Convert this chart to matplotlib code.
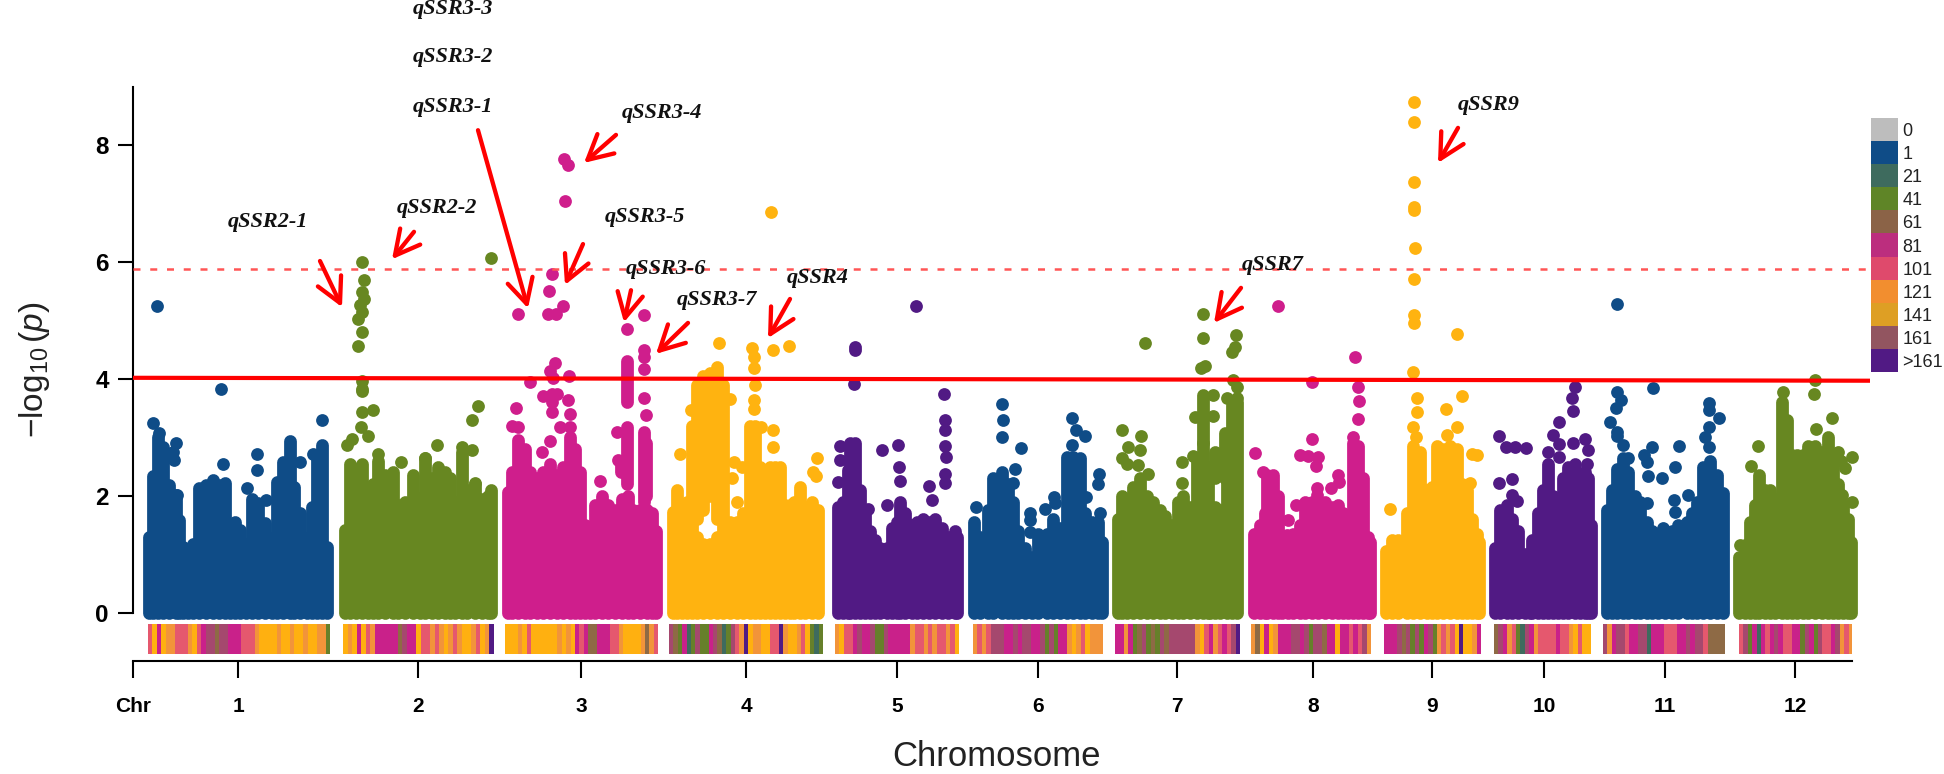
import matplotlib
matplotlib.use("Agg")
import matplotlib.pyplot as plt
import numpy as np
from matplotlib.colors import ListedColormap

W, H = 1944, 774
plt.rcParams['font.family'] = ['Liberation Sans', 'DejaVu Sans']
plt.rcParams['mathtext.fontset'] = 'custom'
plt.rcParams['mathtext.rm'] = 'Liberation Sans'
plt.rcParams['mathtext.it'] = 'Liberation Sans:italic'

chrom_labels = ['1','2','3','4','5','6','7','8','9','10','11','12']
chrom_centers = [238,418,581,746,897,1038,1177,1313,1432,1544,1665,1795]
blue, green, magenta, yellow, purple = '#0F4C87', '#678721', '#CF1E8C', '#FFB310', '#511A84'
chrom_colors = [blue, green, magenta, yellow, purple, blue, green, magenta, yellow, purple, blue, green]

# skyline of the dense point mass: position, top -log10(p)
c1_x = [149,153,158,163,169,176,179,183,188,193,199,206,213,219,225,230,235,240,246,252,258,265,272,277,283,290,294,300,307,312,317,322,327]
c1_t = [1.30,2.33,3.01,2.84,2.18,2.01,1.58,1.13,1.01,1.18,2.13,2.18,2.27,2.18,2.21,1.41,1.55,1.41,1.18,1.95,1.87,1.53,1.27,2.24,2.58,2.93,2.15,1.70,1.27,1.81,2.70,2.87,1.13]
c2_x = [345,350,356,362,368,373,378,385,393,398,405,413,420,425,432,438,445,450,455,462,467,475,482,488,491]
c2_t = [1.41,2.55,2.45,2.55,2.10,2.20,2.60,2.35,2.40,1.85,1.90,2.35,1.97,2.65,2.30,2.50,2.40,2.30,1.90,2.75,2.10,2.20,1.95,2.00,2.10]
c3_x = [508,512,518,525,530,537,543,550,557,563,570,575,580,585,590,595,602,608,615,622,628,633,640,647,652,656]
c3_t = [2.07,2.40,2.95,2.80,2.40,2.30,2.40,2.55,2.35,2.50,3.00,2.80,2.40,1.50,1.30,1.85,2.00,1.85,1.75,1.95,2.00,1.75,1.75,1.75,1.70,1.40]
c4_x = [673,677,682,687,692,697,703,710,717,723,730,737,743,750,755,760,765,770,775,780,785,790,794,800,805,812,818]
c4_t = [1.73,2.10,1.65,1.90,3.20,1.30,1.18,1.18,1.30,3.90,1.55,1.55,1.70,3.20,3.20,2.50,1.90,2.50,2.50,2.50,1.85,1.85,1.90,2.15,1.80,1.90,1.75]
c5_x = [838,843,848,850,855,860,865,870,875,880,887,892,897,900,905,912,917,923,929,935,942,948,955,957]
c5_t = [1.81,1.90,2.44,2.90,2.90,2.10,1.75,1.40,1.25,1.10,1.10,1.45,1.55,1.90,1.70,1.50,1.55,1.60,1.55,1.60,1.45,1.30,1.40,1.30]
c6_x = [974,980,988,993,1002,1008,1013,1018,1025,1032,1038,1047,1053,1060,1067,1073,1080,1085,1092,1098,1102]
c6_t = [1.55,1.30,1.75,2.30,2.40,2.20,1.90,1.40,1.10,0.95,1.35,1.35,1.60,1.45,2.67,2.67,2.65,1.70,1.55,1.55,1.20]
c7_x = [1118,1122,1127,1133,1140,1147,1153,1160,1165,1172,1178,1183,1190,1197,1203,1208,1210,1215,1220,1227,1232,1237]
c7_t = [1.60,2.00,1.70,2.15,2.30,2.00,1.90,1.75,1.65,1.50,1.90,2.00,1.80,2.60,2.90,2.50,1.80,1.80,1.75,2.30,3.55,3.60]
c8_x = [1254,1260,1265,1267,1273,1278,1282,1288,1293,1300,1305,1312,1318,1325,1332,1338,1343,1348,1353,1358,1363,1368,1370]
c8_t = [1.35,1.50,1.70,2.35,2.35,2.00,1.30,1.25,1.35,1.50,1.90,1.90,1.90,1.90,1.80,1.85,1.70,1.40,2.90,2.85,2.30,1.30,1.20]
c9_x = [1386,1392,1398,1407,1413,1420,1427,1432,1437,1443,1450,1457,1462,1467,1472,1477,1479]
c9_t = [1.05,1.25,1.25,1.70,2.85,2.75,2.10,2.15,2.85,2.80,2.85,2.80,2.20,2.10,1.60,1.35,1.20]
c10_x = [1495,1500,1507,1512,1518,1525,1530,1532,1538,1543,1548,1553,1558,1563,1568,1575,1580,1585,1588,1591]
c10_t = [1.10,1.75,1.85,1.60,1.40,1.00,0.95,1.25,1.70,2.10,2.55,2.00,1.40,2.30,2.50,2.55,2.00,2.40,2.30,1.50]
c11_x = [1607,1612,1617,1623,1628,1635,1640,1647,1652,1658,1665,1672,1678,1687,1692,1697,1703,1710,1717,1723]
c11_t = [1.75,2.10,2.45,2.65,2.40,2.00,1.90,1.55,1.40,1.35,1.40,1.40,1.50,1.55,1.70,1.90,2.50,2.60,2.35,2.05]
c12_x = [1739,1745,1750,1755,1759,1765,1770,1775,1782,1787,1792,1797,1803,1808,1815,1822,1828,1833,1838,1843,1848,1851]
c12_t = [0.95,1.15,1.55,1.85,2.35,2.10,2.10,1.95,3.60,3.30,1.95,2.10,1.95,2.85,2.85,2.75,3.00,2.65,2.20,1.85,1.60,1.20]

# floating columns of overlapping points: position, lowest, highest
s3_x = [627,644,646,621]
s3_l = [2.20,1.90,2.00,2.40]
s3_h = [3.18,3.10,2.90,2.60]
s3b_x = [627]
s3b_l = [3.60]
s3b_h = [4.30]
s4_x = [697,703,710,717]
s4_l = [1.60,1.75,2.00,1.60]
s4_h = [3.90,4.05,4.10,4.20]
s7_x = [1203,1215,1225]
s7_l = [2.90,2.30,2.30]
s7_h = [3.72,2.75,3.07]
s12_x = [1797,1803,1792]
s12_l = [2.20,2.50,2.55]
s12_h = [2.70,2.70,2.70]

# individually visible points
d1_x = [157,221,322,153,159,176,173,174,223,257,257,247,266,300,313,177]
d1_y = [5.25,3.82,3.30,3.25,3.08,2.90,2.75,2.61,2.54,2.71,2.44,2.13,1.93,2.58,2.71,2.01]
d2_x = [362,364,362,364,360,362,358,362,358,362,362,362,491,373,362,361,368,352,347,378,401,437,425,478,472,472,462,475]
d2_y = [6.00,5.70,5.49,5.37,5.26,5.14,5.03,4.80,4.56,3.97,3.83,3.79,6.07,3.47,3.44,3.18,3.02,2.97,2.87,2.71,2.57,2.87,2.64,3.53,3.29,2.79,2.84,2.21]
d3_x = [518,552,549,563,548,556,564,568,565,627,644,644,644,644,555,550,553,569,530,552,543,557,552,568,516,552,570,512,518,560,570,550,542,600,644,646,617,618]
d3_y = [5.11,5.80,5.50,5.25,5.11,5.11,7.77,7.66,7.04,4.86,5.10,4.50,4.37,4.17,4.27,4.13,4.01,4.05,3.95,3.75,3.70,3.75,3.61,3.64,3.51,3.44,3.40,3.19,3.18,3.17,3.17,2.93,2.75,2.26,3.67,3.39,3.10,2.61]
d4_x = [719,752,754,754,755,754,754,773,789,773,773,680,817,813,816,737,730,691,771,734,742,761,732]
d4_y = [4.61,4.53,4.38,4.18,3.90,3.64,3.48,4.49,4.57,3.13,2.84,2.71,2.64,2.41,2.33,1.90,3.66,3.47,6.86,2.57,2.50,3.18,2.30]
d5_x = [855,855,854,916,944,945,945,945,946,945,945,882,898,899,900,929,932,868,887,840,840,838]
d5_y = [4.49,4.55,3.91,5.25,3.74,3.29,3.13,2.85,2.66,2.38,2.21,2.79,2.87,2.50,2.26,2.17,1.93,1.77,1.85,2.85,2.61,2.24]
d6_x = [1002,1003,1002,1021,1015,976,1030,1030,1030,1045,1054,1055,1072,1076,1085,1072,1099,1098,1100,1086,1013]
d6_y = [3.57,3.30,3.00,2.81,2.46,1.81,1.71,1.58,1.38,1.77,1.98,1.87,3.34,3.13,3.02,2.87,2.37,2.20,1.70,1.98,2.21]
d7_x = [1203,1203,1145,1236,1235,1232,1205,1201,1233,1122,1141,1128,1140,1122,1127,1138,1148,1182,1193,1182,1195,1213,1227,1237,1237,1213,1222,1225]
d7_y = [5.12,4.70,4.61,4.75,4.55,4.46,4.22,4.19,3.98,3.13,3.02,2.84,2.78,2.64,2.55,2.53,2.38,2.58,2.68,2.21,3.35,3.73,3.68,3.67,3.87,3.37,2.68,2.30]
d8_x = [1278,1355,1312,1358,1359,1358,1353,1312,1255,1300,1308,1318,1316,1263,1338,1339,1331,1317,1317,1296,1288,1287]
d8_y = [5.25,4.37,3.94,3.87,3.63,3.31,3.01,2.97,2.73,2.70,2.68,2.67,2.51,2.41,2.35,2.24,2.13,2.14,2.01,1.84,1.58,1.33]
d9_x = [1414,1414,1414,1414,1414,1415,1414,1414,1414,1457,1413,1462,1446,1417,1417,1413,1416,1457,1447,1390,1477,1472,1470]
d9_y = [8.74,8.40,7.37,6.95,6.89,6.24,5.71,5.09,4.96,4.77,4.12,3.71,3.48,3.67,3.44,3.18,3.01,3.18,3.04,1.77,2.70,2.72,2.21]
d10_x = [1499,1506,1515,1526,1499,1512,1512,1517,1575,1572,1573,1559,1553,1559,1559,1573,1585,1588,1587,1548]
d10_y = [3.03,2.84,2.84,2.82,2.22,2.29,2.01,1.91,3.86,3.68,3.45,3.26,3.04,2.88,2.66,2.90,2.98,2.78,2.55,2.75]
d11_x = [1617,1653,1617,1621,1616,1610,1617,1617,1709,1709,1719,1709,1705,1709,1679,1652,1644,1647,1675,1648,1662,1688,1674,1675,1647,1663,1623,1628]
d11_y = [5.28,3.85,3.78,3.64,3.51,3.27,3.10,3.02,3.58,3.47,3.34,3.18,3.01,2.84,2.85,2.83,2.70,2.58,2.49,2.34,2.31,2.01,1.93,1.73,1.87,1.44,2.87,2.64]
d12_x = [1815,1814,1783,1832,1816,1758,1751,1852,1740,1842,1852,1845,1838,1841]
d12_y = [3.98,3.75,3.78,3.34,3.14,2.86,2.51,2.67,1.15,2.01,1.89,2.47,2.75,2.60]

mass_x = [c1_x,c2_x,c3_x,c4_x,c5_x,c6_x,c7_x,c8_x,c9_x,c10_x,c11_x,c12_x]
mass_t = [c1_t,c2_t,c3_t,c4_t,c5_t,c6_t,c7_t,c8_t,c9_t,c10_t,c11_t,c12_t]
dots_x = [d1_x,d2_x,d3_x,d4_x,d5_x,d6_x,d7_x,d8_x,d9_x,d10_x,d11_x,d12_x]
dots_y = [d1_y,d2_y,d3_y,d4_y,d5_y,d6_y,d7_y,d8_y,d9_y,d10_y,d11_y,d12_y]
segs = [(s3_x,s3_l,s3_h,magenta),(s3b_x,s3b_l,s3b_h,magenta),(s4_x,s4_l,s4_h,yellow),(s7_x,s7_l,s7_h,green),(s12_x,s12_l,s12_h,green)]

# SNP density strip (one character per window)
strip_rows = [
 "SYKYOOSSSOYSKMMBMMKKKSSSOYYYYOYYOYYOYYOOG",
 "YOYKYSOKKKKKBMKKYSSOSOYOSOYYOSYOP",
 "YYYOYSYYYYYYOYOYKSKBBKKKSSOYYYYOBOS",
 "MBGKTGMGGKMBTGMSOPYOOYYSSPOYYOSYGTG",
 "OYSSKMKKMGGMKKKKKOSSOSOSSOSY",
 "OSOSMMMKKMKMMKKMGMGKKOYOSYOOO",
 "KKOKGBMGBGMBMMMMMMOYSKOSKSMP",
 "OBYKYOKKKMMKMGMMBKKYKKSKSMO",
 "KKKMBMGMGKMGOSOSYPYYOK",
 "BMKOSGTMKOSSSSKSSOYSYY",
 "MOKMMSKKMMTKKKSSSKKMKMMSBBBB",
 "SMGKTKSKMKSSKKGMKGMSSKMOSO",
]
strip_start = [148,343,505,669,835,973,1115,1251,1384,1494,1603,1739]
strip_end = [330,494,658,823,959,1103,1240,1371,1481,1591,1725,1853]
strip_palette = {'T':'#3E6B5E','G':'#66802A','B':'#8E6A45','K':'#C9218A','S':'#E5586E',
                 'O':'#F2943A','Y':'#FFB010','M':'#A5486E','P':'#511A84'}

legend_labels = ['0','1','21','41','61','81','101','121','141','161','>161']
legend_colors = ['#BDBDBD','#0F4C87','#3E6B5E','#5F8527','#8B6347','#BC2E7E','#DF4A6C','#F28E2F','#DE9F24','#925560','#511A84']

qtl_names = ['qSSR3-3','qSSR3-2','qSSR3-1','qSSR3-4','qSSR2-1','qSSR2-2','qSSR3-5','qSSR3-6','qSSR3-7','qSSR4','qSSR7','qSSR9']
qtl_x = [453,453,453,662,268,437,645,666,717,818,1273,1489]
qtl_y = [10.33,9.51,8.66,8.55,6.69,6.92,6.77,5.88,5.35,5.73,5.95,8.69]
arrow_tail_x = [320,414,478,616,583,631,688,790,1241,1458]
arrow_tail_y = [6.02,6.52,8.26,8.18,6.31,5.52,4.96,5.37,5.56,8.30]
arrow_head_x = [342,392,528,584,565,624,656,768,1214,1438]
arrow_head_y = [5.23,6.05,5.21,7.70,5.61,4.97,4.43,4.70,4.96,7.70]

threshold_dotted = 5.88
threshold_x = [133,1870]
threshold_solid = [4.02,3.97]

fig = plt.figure(figsize=(W/100, H/100), dpi=100)
ax = fig.add_axes([133/W, 113/H, (1852-133)/W, 574/H])
ax.set_xlim(133, 1852)
ax.set_ylim(-0.83, 9)
for s in ('top','right'):
    ax.spines[s].set_visible(False)
ax.spines['left'].set_bounds(0, 9)
ax.spines['left'].set_linewidth(1.5)
ax.spines['bottom'].set_linewidth(1.5)
ax.set_yticks([0,2,4,6,8])
ax.set_xticks([133]+chrom_centers)
ax.set_xticklabels(['Chr']+chrom_labels, fontsize=15, fontweight='bold')
ax.tick_params(axis='y', length=10.5, width=1.5, labelsize=17.5, pad=7)
ax.tick_params(axis='x', length=12, width=1.5, pad=14)
for t in ax.get_yticklabels():
    t.set_fontweight('bold')

dot = 9.2
for xs, ts, dx, dy, col in zip(mass_x, mass_t, dots_x, dots_y, chrom_colors):
    ax.vlines(xs, 0, ts, color=col, lw=dot, capstyle='round', clip_on=False, zorder=2)
    ax.scatter(dx, dy, s=dot**2, color=col, linewidths=0, clip_on=False, zorder=2)
for sx, sl, sh, col in segs:
    ax.vlines(sx, sl, sh, color=col, lw=dot, capstyle='round', clip_on=False, zorder=2)

ax.plot(threshold_x, [threshold_dotted]*2, color='#FF5555', lw=1.8, dashes=(2.8,3.9), clip_on=False, zorder=3)
ax.plot(threshold_x, threshold_solid, color='#FF0000', lw=3, clip_on=False, zorder=3, solid_capstyle='butt')

for row, a, b in zip(strip_rows, strip_start, strip_end):
    edges = np.linspace(a, b, len(row)+1)
    ax.bar(edges[:-1], 0.51, bottom=-0.71, width=np.diff(edges)+0.4, align='edge',
           color=[strip_palette[c] for c in row], linewidth=0, zorder=2)

for n, x, y in zip(qtl_names, qtl_x, qtl_y):
    ax.text(x, y, n, family='Liberation Serif', style='italic', fontweight='bold', fontsize=16,
            ha='center', va='center', color='#111111', clip_on=False, zorder=5)
for tx, ty, hx, hy in zip(arrow_tail_x, arrow_tail_y, arrow_head_x, arrow_head_y):
    ax.annotate('', xy=(hx, hy), xytext=(tx, ty), annotation_clip=False, zorder=6,
                arrowprops=dict(arrowstyle='->,head_length=0.8,head_width=0.42', color='#FF0000',
                                lw=3.1, shrinkA=0, shrinkB=0, mutation_scale=22))

fig.text(35/W, 1-370/H, r'$-\log_{10}(p)$', rotation=90, ha='center', va='center', fontsize=24, color='#222222')
fig.text(996/W, 1-757/H, 'Chromosome', ha='center', va='center', fontsize=25, color='#222222')

lax = fig.add_axes([1871/W, 1-372/H, 27/W, 254/H])
lax.imshow(np.arange(len(legend_labels)).reshape(-1,1), aspect='auto',
           cmap=ListedColormap(legend_colors), interpolation='nearest')
lax.set_xticks([])
lax.yaxis.tick_right()
lax.set_yticks(range(len(legend_labels)))
lax.set_yticklabels(legend_labels, fontsize=13, color='#222222')
lax.tick_params(axis='y', length=0, pad=3)
for s in lax.spines.values():
    s.set_visible(False)

fig.savefig('out.png', dpi=100)
